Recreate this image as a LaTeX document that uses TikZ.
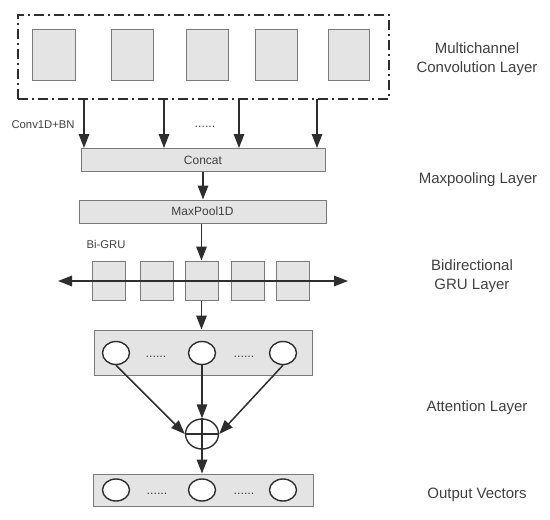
\documentclass[tikz,border=0pt]{standalone}
\usepackage{fontspec}
\setmainfont{Liberation Sans}
\usetikzlibrary{arrows.meta,shapes.geometric,calc}
\definecolor{boxfill}{HTML}{E4E4E4}
\definecolor{boxline}{HTML}{7A7A7A}
\definecolor{ink}{HTML}{2E2E2E}
\definecolor{txt}{HTML}{404040}
\tikzset{
  tip/.tip={Triangle[length=14pt,width=10.5pt]},
  gbox/.style={draw=boxline,fill=boxfill,line width=1pt,inner sep=0pt},
  arr/.style={draw=ink,line width=1.5pt,-tip},
  oval/.style={ellipse,draw=ink,line width=1.4pt,fill=white,minimum width=27pt,minimum height=23pt,inner sep=0pt},
  lbl/.style={text=txt,font=\fontsize{15}{18.5}\selectfont,align=center},
  small/.style={text=txt,font=\fontsize{11.3}{13}\selectfont},
  dots/.style={text=txt,font=\fontsize{12.5}{13}\selectfont}
}
\begin{document}
\begin{tikzpicture}[x=1pt,y=-1pt]
\useasboundingbox (0,0) rectangle (550,520);
% dashed outer box
\node[draw=ink,line width=1.4pt,dash pattern=on 10pt off 4pt on 2pt off 4pt,minimum width=371pt,minimum height=84pt,inner sep=0pt] (conv) at (203.5,57) {};
% conv channels
\foreach \n/\x/\w in {c1/53.5/43,c2/132/42,c3/207/42,c4/276/42,c5/348.5/41}
  \node[gbox,minimum width=\w pt,minimum height=51pt] (\n) at (\x,54.5) {};
% arrow sources
\coordinate (a1) at (84,99);
\coordinate (a2) at (164,99);
\coordinate (a3) at (239,99);
\coordinate (a4) at (317,99);
\node[small,anchor=west] (cbn) at (8,125) {Conv1D+BN};
\node[dots] (d0) at (205,127) {......};
% concat
\node[gbox,minimum width=244pt,minimum height=23pt] (concat) at (203,160) {\fontsize{12}{14}\selectfont\color{txt}Concat};
\foreach \a in {a1,a2,a3,a4} \draw[arr] (\a) -- (\a |- concat.north);
% maxpool
\node[gbox,minimum width=247pt,minimum height=23pt] (pool) at (202.5,211.5) {\fontsize{12}{14}\selectfont\color{txt}MaxPool1D};
\coordinate (mx) at (203,0);
\draw[arr] (concat.south -| mx) -- (pool.north -| mx);
% Bi-GRU
\node[small] (bigru) at (106,244) {Bi-GRU};
\foreach \n/\x in {g1/108.5,g2/156.5,g3/201.5,g4/247.5,g5/292.5}
  \node[gbox,minimum width=33pt,minimum height=39pt] (\n) at (\x,280.5) {};
\draw[arr] (pool.south -| g3) -- (g3.north);
\coordinate (gl) at (58,281);
\coordinate (gr) at (348,281);
\draw[draw=ink,line width=1.5pt,tip-tip] (gl) -- (gr);
% attention
\node[gbox,minimum width=218pt,minimum height=45pt] (att) at (203,352.5) {};
\draw[arr] (g3.south) -- (att.north -| g3);
\node[oval] (e1) at (116,353) {};
\node[oval] (e2) at (202,353) {};
\node[oval] (e3) at (283,353) {};
\node[dots] (d1) at (156,357) {......};
\node[dots] (d2) at (244,357) {......};
% oplus
\node[ellipse,draw=ink,line width=1.4pt,minimum width=33pt,minimum height=30pt,inner sep=0pt] (sum) at (202,434) {};
\draw[draw=ink,line width=1.4pt] (sum.north) -- (sum.south) (sum.west) -- (sum.east);
\draw[arr] (e1.south) -- (sum.west);
\draw[arr] (e2.south) -- (sum.north);
\draw[arr] (e3.south) -- (sum.east);
% output
\node[gbox,minimum width=220pt,minimum height=32pt] (out) at (203,490) {};
\draw[arr] (sum.south) -- (out.north -| sum);
\node[oval,minimum height=22pt] (o1) at (116,490) {};
\node[oval,minimum height=22pt] (o2) at (202,490) {};
\node[oval,minimum height=22pt] (o3) at (283,490) {};
\node[dots] (d3) at (157,494) {......};
\node[dots] (d4) at (244,494) {......};
% right labels
\node[lbl] (l1) at (477,59) {Multichannel\\Convolution Layer};
\node[lbl] (l2) at (478,180) {Maxpooling Layer};
\node[lbl] (l3) at (472,276) {Bidirectional\\GRU Layer};
\node[lbl] (l4) at (477,408) {Attention Layer};
\node[lbl] (l5) at (477,495) {Output Vectors};
\end{tikzpicture}
\end{document}
